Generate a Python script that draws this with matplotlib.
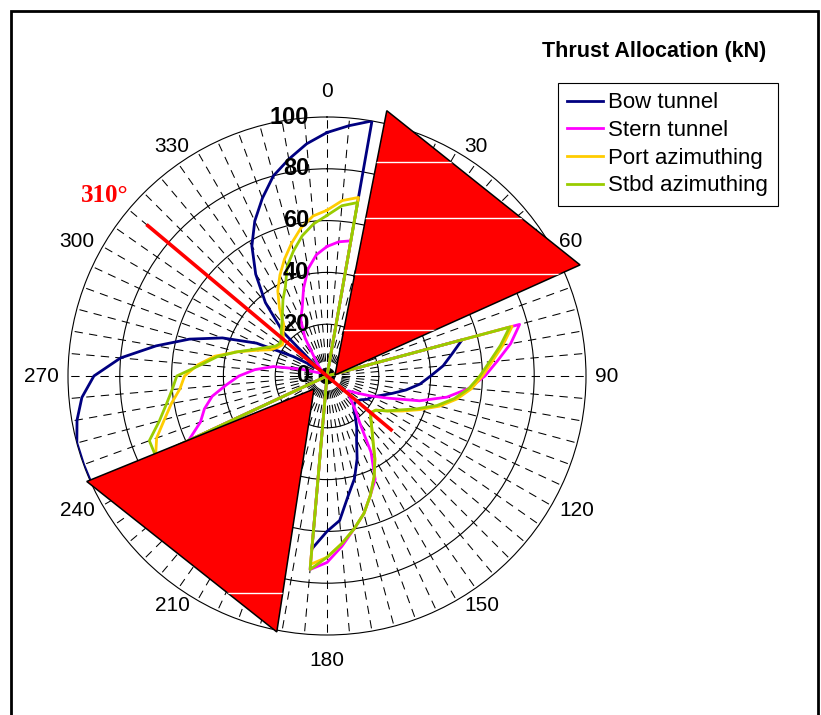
import numpy as np
import matplotlib
matplotlib.use("Agg")
import matplotlib.pyplot as plt
from matplotlib.patches import Rectangle

plt.rcParams["font.family"] = ["Liberation Sans", "DejaVu Sans"]

# =========================================================
# DATA (kN, one value every 5 deg, 0..355)
# =========================================================

theta_deg = np.arange(0, 360, 5)

bow_tunnel = [
    94, 97, 100, 0, 0, 0, 0, 0, 0, 0, 0, 0, 0, 0, 0,          # 0..70
    54, 49, 45, 40, 36, 31, 26, 22, 19, 18, 16, 15, 15,       # 75..135
    16, 19, 23, 27, 34, 41, 47, 56, 60, 67,                   # 140..185
    0, 0, 0, 0, 0, 0, 0, 0, 0, 0, 0,                          # 190..240
    100, 100, 100, 98, 95, 90, 80, 67, 55, 43, 30, 15,        # 245..300
    7, 4, 24, 37, 48, 58, 66, 73, 80, 85, 90,                 # 305..355
]
stern_tunnel = [
    50, 52, 53, 0, 0, 0, 0, 0, 0, 0, 0, 0, 0, 0, 0,
    77, 72, 66, 61, 55, 47, 37, 25, 18, 13, 10, 11, 13,
    17, 22, 34, 44, 49, 55, 60, 66, 72, 75,
    0, 0, 0, 0, 0, 0, 0, 0, 0, 0, 0,
    59, 52, 49, 45, 39, 34, 28, 21, 10, 4, 3, 3,
    3, 3, 3, 5, 8, 17, 24, 28, 35, 42, 47,
]
port_azimuthing = [
    64, 68, 70, 0, 0, 0, 0, 0, 0, 0, 0, 0, 0, 0, 0,
    74, 69, 64, 60, 56, 51, 45, 38, 32, 27, 23, 22, 24,
    27, 31, 37, 43, 49, 55, 60, 65, 70, 73,
    0, 0, 0, 0, 0, 0, 0, 0, 0, 0, 0,
    73, 70, 65, 61, 57, 55, 50, 44, 36, 29, 24, 22,
    21, 22, 24, 26, 32, 38, 43, 48, 53, 58, 62,
]
stbd_azimuthing = [
    62, 66, 68, 0, 0, 0, 0, 0, 0, 0, 0, 0, 0, 0, 0,
    73, 68, 63, 59, 55, 50, 44, 37, 31, 27, 23, 22, 24,
    27, 31, 37, 43, 49, 55, 60, 65, 70, 75,
    0, 0, 0, 0, 0, 0, 0, 0, 0, 0, 0,
    73, 73, 67, 63, 60, 58, 49, 43, 36, 30, 26, 23,
    22, 23, 25, 27, 30, 34, 38, 45, 50, 55, 59,
]

series_names = ["Bow tunnel", "Stern tunnel", "Port azimuthing", "Stbd azimuthing"]
series_values = [bow_tunnel, stern_tunnel, port_azimuthing, stbd_azimuthing]
series_colors = ["#000080", "#FF00FF", "#FFCC00", "#99CC00"]

# forbidden sectors (theta deg, r)
wedge_top_theta = [83, 12.7, 66.3]
wedge_top_r = [3.1, 105, 106.7]
wedge_bot_theta = [225, 246.3, 191.1]
wedge_bot_r = [7.1, 101.3, 100.7]

# heading line
heading_theta = [310, 130]
heading_r = [91, 33]

angle_ticks = list(range(0, 360, 30))
angle_labels = [str(a) for a in angle_ticks]
radial_ticks = [0, 20, 40, 60, 80, 100]

# =========================================================
# FIGURE
# =========================================================

fig = plt.figure(figsize=(8.21, 7.15), dpi=100)
ax = fig.add_axes([68 / 821, 80 / 715, 518 / 821, 518 / 715], projection="polar")
ax.set_theta_zero_location("N")
ax.set_theta_direction(-1)
ax.set_ylim(0, 100)

# grid: dashed spokes every 5 deg, solid rings
ax.set_thetagrids(theta_deg, labels=[""] * len(theta_deg))
ax.set_rgrids([20, 40, 60, 80], labels=[""] * 4)
ax.xaxis.grid(True, color="black", linewidth=0.75, linestyle=(0, (8, 6)))
ax.yaxis.grid(True, color="black", linewidth=0.8, linestyle="-")
ax.spines["polar"].set_linewidth(0.8)
ax.set_axisbelow(True)
ax.tick_params(length=0)

th_closed = np.deg2rad(np.append(theta_deg, 360))
handles = []
for name, vals, col in zip(series_names, series_values, series_colors):
    r_closed = np.append(vals, vals[0])
    ln, = ax.plot(th_closed, r_closed, color=col, linewidth=2.0, label=name, zorder=3)
    handles.append(ln)

# red sectors with the odd white stripes of the original
stripe_rows = [0.913, 0.805, 0.697, 0.589, 0.081]
for wt, wr in [(wedge_top_theta, wedge_top_r), (wedge_bot_theta, wedge_bot_r)]:
    patch = ax.fill(np.deg2rad(wt), wr, facecolor="#FF0000", edgecolor="black",
                    linewidth=1.1, zorder=4, clip_on=False)[0]
    for yr in stripe_rows:
        s, = ax.plot([0, 1], [yr, yr], transform=ax.transAxes, color="white",
                     linewidth=1.0, zorder=4.5)
        s.set_clip_path(patch)

ax.plot(np.deg2rad(heading_theta), heading_r, color="#FF0000", linewidth=2.6,
        zorder=5, solid_capstyle="butt")

# angle labels, placed Excel-style just outside the outer ring
for a, lab in zip(angle_ticks, angle_labels):
    s, c = np.sin(np.deg2rad(a)), np.cos(np.deg2rad(a))
    if a in (0, 180):
        ha, dx, dy = "center", 0, 25.5 * np.sign(c)
    elif a in (90, 270):
        ha, dx, dy = ("left", 8.5, 0) if s > 0 else ("right", -9.5, 0)
    else:
        ha = "left" if s > 0 else "right"
        dx, dy = 8 * np.sign(s), 5 * np.sign(c)
    ax.annotate(lab, xy=(np.deg2rad(a), 100), xytext=(dx, dy),
                textcoords="offset pixels", ha=ha, va="center", fontsize=15,
                annotation_clip=False)

# radial labels along the 0 deg axis
for rv in radial_ticks:
    ax.annotate(str(rv), xy=(0, rv), xytext=(-18, 0), textcoords="offset pixels",
                ha="right", va="center", fontsize=17, fontweight="bold", zorder=6)

ax.text(np.deg2rad(309), 110.5, "310\u00b0", color="#FF0000", fontsize=18,
        fontweight="bold", family=["Liberation Serif", "DejaVu Serif"],
        ha="center", va="center")

fig.text(654 / 821, 1 - 51 / 715, "Thrust Allocation (kN)", ha="center",
         va="center", fontsize=15.5, fontweight="bold")

leg = ax.legend(handles, series_names, loc="upper left",
                bbox_to_anchor=(558 / 821, 1 - 83 / 715),
                bbox_transform=fig.transFigure, fontsize=16, frameon=True,
                fancybox=False, shadow=False, framealpha=1, edgecolor="black",
                handlelength=1.6, handletextpad=0.25, borderpad=0.42,
                labelspacing=0.3, borderaxespad=0)
leg.get_frame().set_linewidth(0.8)

# outer chart frame
fig.patches.append(Rectangle((11 / 821, -0.1), 807 / 821, 1.1 - 10.5 / 715,
                             transform=fig.transFigure, fill=False,
                             edgecolor="black", linewidth=2.0))

fig.savefig("out.png", dpi=100, facecolor="white")
